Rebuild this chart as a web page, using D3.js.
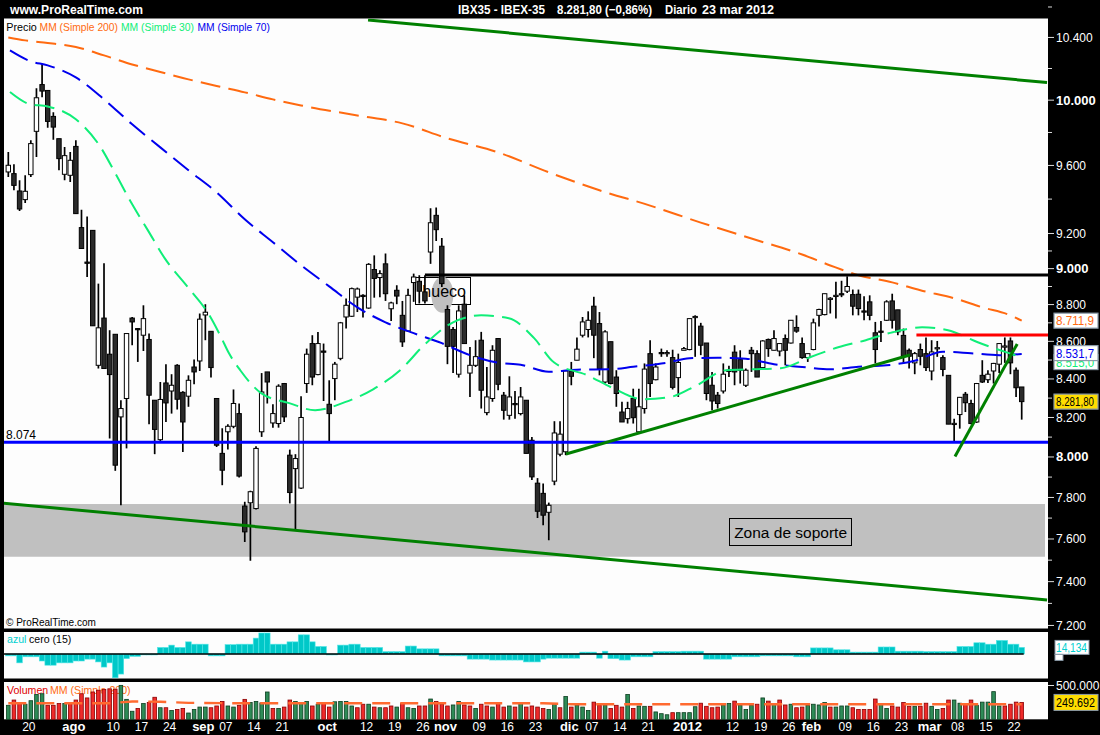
<!DOCTYPE html>
<html><head><meta charset="utf-8">
<script src="https://cdn.jsdelivr.net/npm/d3@7"></script>
<style>
html,body{margin:0;padding:0;background:#000;}
svg{display:block;font-family:"Liberation Sans",Arial,sans-serif;}
</style></head><body>
<svg id="c" width="1100" height="735"></svg>
<script>
// ---------- DATA ----------
const firstDay = "2011-07-14", lastDay = "2012-03-23";
const holidays = ["2011-12-26"];
// daily candles [open, high, low, close]
const ohlc = [
[9561,9681,9531,9601],[9551,9607,9452,9481],[9448,9511,9330,9342],[9397,9541,9377,9446],[9545,9752,9531,9732],
[9807,10075,9651,10015],[10098,10232,10019,10057],[10061,10061,9829,9868],[9899,9925,9756,9833],[9762,9762,9571,9641],
[9547,9711,9511,9659],[9541,9681,9501,9631],[9715,9752,9315,9315],[9234,9338,9114,9114],[9037,9299,8953,9030],
[9218,9218,8684,8684],[8472,8916,8455,8673],[8726,9031,8455,8455],[8531,8660,8093,8423],[8638,8638,7931,7959],
[8203,8289,7762,8246],[8298,8642,8043,8642],[8726,8732,8579,8705],[8669,8669,8490,8665],[8633,8796,8548,8723],
[8610,8642,8166,8315],[8289,8289,8014,8139],[8087,8384,8080,8293],[8379,8478,8177,8275],[8337,8425,8220,8367],
[8472,8478,8241,8294],[8330,8336,8025,8177],[8310,8419,8255,8393],[8463,8503,8372,8437],[8495,8751,8442,8720],
[8743,8802,8606,8758],[8654,8654,8407,8460],[8298,8298,8050,8059],[8018,8145,7860,7934],[8127,8166,8037,8155],
[8155,8345,8145,8272],[8220,8272,7898,7905],[7758,7779,7586,7634],[7774,7833,7497,7828],[7746,8054,7742,8043],
[8127,8431,8101,8332],[8437,8437,8272,8384],[8172,8268,8148,8220],[8169,8372,8148,8362],[8376,8379,8177,8203],
[8009,8037,7771,7824],[7942,8014,7642,7992],[7846,8310,7841,8200],[8376,8561,8327,8531],[8588,8633,8367,8410],
[8423,8651,8419,8588],[8548,8588,8285,8545],[8268,8393,8076,8220],[8402,8490,8289,8478],[8509,8705,8499,8700],
[8732,8833,8669,8796],[8736,8894,8732,8888],[8841,8894,8759,8886],[8851,8857,8729,8848],[8781,9031,8777,9024],
[8995,9075,8838,8945],[8950,8991,8841,8972],[9027,9085,8820,8860],[8777,8815,8710,8809],[8879,8907,8802,8847],
[8741,8820,8570,8597],[8656,8888,8651,8851],[8922,8972,8815,8953],[8929,8963,8806,8874],[8870,8963,8806,8820],
[9094,9347,9027,9262],[9305,9351,9157,9222],[9127,9174,8897,8916],[8773,8796,8478,8573],[8664,8678,8431,8573],
[8425,8796,8407,8765],[8802,8851,8588,8588],[8431,8570,8306,8472],[8472,8606,8463,8518],[8606,8651,8246,8341],
[8225,8463,8211,8306],[8298,8579,8281,8552],[8615,8615,8341,8372],[8315,8332,8189,8237],[8211,8414,8189,8306],
[8272,8337,8194,8268],[8220,8358,8211,8306],[8289,8289,8018,8018],[8084,8101,7885,7901],[7870,7895,7700,7733],
[7820,7868,7666,7714],[7728,7775,7594,7762],[7880,8181,7860,8121],[8014,8181,8004,8115],[8026,8442,8009,8442],
[8442,8490,8367,8414],[8499,8621,8499,8558],[8633,8732,8621,8705],[8664,8763,8621,8714],[8791,8843,8510,8633],
[8696,8759,8419,8455],[8384,8660,8376,8651],[8598,8598,8372,8376],[8410,8446,8255,8324],[8228,8281,8177,8177],
[8194,8281,8169,8246],[8298,8349,8169,8199],[8127,8349,8121,8255],[8246,8482,8220,8452],[8534,8606,8306,8376],
[8396,8482,8393,8463],[8540,8561,8517,8535],[8537,8552,8517,8540],[8513,8555,8345,8356],[8407,8534,8306,8487],
[8552,8570,8552,8561],[8556,8723,8552,8723],[8730,8741,8517,8735],[8682,8700,8526,8579],[8591,8591,8289,8324],
[8367,8437,8237,8285],[8315,8332,8246,8272],[8337,8482,8324,8425],[8446,8470,8410,8440],[8542,8579,8367,8437],
[8502,8552,8376,8446],[8367,8455,8358,8446],[8552,8570,8437,8534],[8534,8552,8410,8410],[8460,8606,8460,8602],
[8610,8615,8517,8561],[8552,8660,8552,8615],[8548,8591,8520,8588],[8615,8637,8472,8552],[8591,8714,8588,8714],
[8675,8741,8646,8655],[8588,8621,8507,8513],[8513,8534,8490,8534],[8556,8723,8552,8700],[8741,8777,8680,8773],
[8745,8860,8741,8860],[8830,8841,8751,8835],[8848,8926,8723,8851],[8860,8932,8841,8857],[8874,8957,8864,8900],
[8855,8883,8741,8791],[8857,8883,8741,8778],[8765,8846,8714,8760],[8815,8851,8714,8741],[8646,8705,8482,8556],
[8655,8710,8597,8650],[8714,8824,8710,8815],[8820,8860,8669,8714],[8771,8771,8633,8651],[8632,8669,8482,8522],
[8552,8561,8455,8520],[8485,8543,8425,8534],[8556,8588,8472,8520],[8534,8621,8442,8460],[8442,8606,8393,8543],
[8562,8602,8517,8566],[8513,8526,8414,8450],[8419,8419,8166,8166],[8166,8194,8071,8170],[8215,8306,8143,8304],
[8320,8332,8228,8276],[8272,8292,8166,8169],[8177,8379,8172,8376],[8419,8499,8379,8384],[8396,8446,8379,8425],
[8442,8485,8376,8482],[8478,8591,8431,8588],[8570,8621,8485,8575],[8602,8621,8425,8485],[8446,8460,8306,8354],
[8358,8358,8189,8281.8]
];
// volume, thousands
const volumes = [
207,285,233,223,275,368,378,207,207,233, 233,243,285,378,316,404,430,440,451,445,
502,295,119,161,233,249,326,171,171,130, 145,161,93,145,181,181,171,197,264,197,
181,207,295,249,264,243,404,161,161,181, 285,264,249,264,197,223,249,181,259,264,
264,197,171,223,223,181,171,171,197,181, 233,171,161,197,197,300,264,223,197,212,
264,212,197,161,223,197,181,233,181,197, 181,233,181,197,181,161,145,223,171,337,
181,212,181,130,254,212,212,161,207,181, 368,161,197,192,192,109,83,67,98,98,
98,98,186,238,192,171,181,212,233,269, 212,145,207,223,316,269,223,285,212,223,
171,181,207,223,212,249,181,181,197,197, 171,145,145,145,300,223,161,197,181,249,
192,192,192,238,192,145,161,285,285,238, 223,285,207,254,254,409,197,197,223,254,
249.692];
// "azul cero (15)" indicator
const azul = [
-4,-4,-19,-6,-6,-6,-15,-24,-24,-19, -19,-19,-15,-15,-11,-11,-17,-28,-19,-51,
-43,-10,-5,-5,-2,-2,-2,14,14,19, 14,14,26,21,21,21,-4,-4,-4,20,
20,21,21,21,34,45,45,21,21,21, 26,26,41,41,26,16,16,-2,-2,19,
19,21,21,14,14,14,14,5,5,5, 5,17,17,11,11,11,11,-4,-4,-4,
-4,-4,-11,-11,-11,-11,-13,-13,-13,-13, -13,-13,-17,-17,-17,-11,-9,-9,-9,-9,
-9,-9,4,4,4,-9,6,-10,-10,-13, -13,-6,-6,-6,-6,5,5,5,5,5,
6,6,6,6,-11,-11,-11,-11,-11,-6, -6,-6,-6,-6,-4,-4,-4,-4,-4,-4,
-6,-6,-6,13,13,13,13,9,9,9, 4,4,4,4,4,15,15,15,6,6,
6,6,6,5,5,5,5,5,5,16, 16,16,24,24,21,21,29,29,21,21,
14.134];
// moving averages: [candle index, value]
const ma200 = [[0,10400],[3,10381],[7,10364],[12,10338],[17,10284],[22,10226],[27,10178],[32,10131],[37,10089],[42,10049],[47,10005],[52,9967],[62,9905],[70,9856],[78,9764],[87,9679],[96,9559],[105,9452],[114,9362],[123,9263],[132,9171],[141,9080],[146,9018],[151,8963],[157,8923],[162,8879],[168,8835],[173,8785],[178,8741],[180,8711.9]];
const ma70 = [[0.3,10316],[3.9,10247],[7,10220],[12,10143],[17,10005],[22,9850],[27,9709],[32,9571],[37,9440],[42,9282],[47,9150],[52,9019],[57,8901],[62,8785],[67,8703],[72,8644],[77,8590],[82,8526],[87,8486],[91,8475],[96,8438],[101,8449],[107,8451],[111,8464],[117,8486],[121,8510],[126,8512],[131,8507],[136,8478],[141,8463],[146,8451],[151,8464],[156,8472],[161,8496],[166,8544],[171,8536],[176,8526],[180,8531.7]];
const ma30 = [[0.3,10051],[3.9,9974],[7,9961],[12,9881],[16.3,9715],[19.1,9547],[21.8,9381],[24.8,9218],[27.8,9058],[31.9,8896],[35.6,8747],[37.8,8622],[39.2,8536],[41.2,8446],[44.9,8326],[49.9,8274],[54.5,8237],[59.8,8279],[64.8,8346],[69.6,8446],[74,8584],[79,8703],[84,8741],[88.9,8725],[93.4,8617],[96.9,8488],[102.8,8420],[107.4,8352],[112.7,8294],[117.5,8305],[122.3,8367],[127.5,8446],[132.3,8451],[137.2,8457],[142.4,8515],[147.4,8568],[152.3,8606],[157.1,8649],[162.3,8676],[166.9,8660],[172.2,8595],[177.2,8542],[180,8515]];
const volMA = [[0,238],[18,238],[22,264],[27,259],[32,243],[40,238],[95,238],[100,223],[180,223]];
// drawn levels / trend lines
const supportLevel = 8074, gapLevel = 8964, resistLevel = 8634;
const gapLevelStart = 74, resistStart = 161.3;
const trendLines = [
  {from:[63.9,10514], to:[184.5,10111]},
  {from:[-0.9,7772], to:[184.5,7316]},
  {from:[99.06,8015], to:[160.15,8527]},
  {from:[168.15,8002], to:[179.2,8586]}
];
const zone = {top:7768, bottom:7516, label:"Zona de soporte", box:[128.1,149.8,7699,7568]};
const hueco = {label:"hueco", box:[72.3,82.1,8952,8802], blob:[77.1,8854]};
const priceTicks = [10400,10000,9600,9200,9000,8800,8600,8400,8200,8000,7800,7600,7400,7200];
const boldTicks = [10000,9000,8000];
const minorTicks = [10600,10200,9800,9400,9100,8900,8700,8500,8300,8100,7900,7700,7500,7300];
const xLabels = [["2011-07-20","20",0],["2011-08-01","ago",1],["2011-08-10","10",0],["2011-08-17","17",0],["2011-08-24","24",0],
["2011-09-01","sep",1],["2011-09-07","07",0],["2011-09-14","14",0],["2011-09-21","21",0],["2011-10-03","oct",1],["2011-10-12","12",0],
["2011-10-19","19",0],["2011-10-26","26",0],["2011-11-01","nov",1],["2011-11-09","09",0],["2011-11-16","16",0],["2011-11-23","23",0],
["2011-12-01","dic",1],["2011-12-07","07",0],["2011-12-14","14",0],["2011-12-21","21",0],["2012-01-02","2012",1],["2012-01-12","12",0],
["2012-01-19","19",0],["2012-01-26","26",0],["2012-02-01","feb",1],["2012-02-09","09",0],["2012-02-16","16",0],["2012-02-23","23",0],
["2012-03-01","mar",1],["2012-03-08","08",0],["2012-03-15","15",0],["2012-03-22","22",0]];
const monthsEs = ["ene","feb","mar","abr","may","jun","jul","ago","sep","oct","nov","dic"];

// ---------- HELPERS ----------
function tradingDays(a,b,skip){const out=[];let d=new Date(a+"T00:00:00Z");const e=new Date(b+"T00:00:00Z");
  while(d<=e){const wd=d.getUTCDay();const s=d.toISOString().slice(0,10);if(wd!==0&&wd!==6&&!skip.includes(s))out.push(s);d=new Date(d.getTime()+86400000);}return out;}
const dates = tradingDays(firstDay,lastDay,holidays);
const es = d3.formatLocale({decimal:",",thousands:".",grouping:[3],currency:["",""]});
const f0=es.format(",.0f"), f1=es.format(",.1f"), f2=es.format(",.2f"), f3=es.format(",.3f");

const svg = d3.select("#c");
const L=4, R=1048, N=ohlc.length;
const mainT=18.5, mainB=628.5, indT=632, indB=678.5, volT=682, volB=719.3;
svg.append("rect").attr("width",1100).attr("height",735).attr("fill","#000");
[[mainT,mainB],[indT,indB],[volT,volB]].forEach(p=>svg.append("rect").attr("x",L).attr("y",p[0]).attr("width",R-L).attr("height",p[1]-p[0]).attr("fill","#fdfdfd"));

const x = d3.scaleLinear().domain([0,180]).range([8.3,1021.7]);
const y = d3.scaleLog().domain([7184,10524]).range([629,18.5]);
const yI = d3.scaleLinear().domain([-52.5,47.1]).range([678.5,632]);
const yV = d3.scaleLinear().domain([0,500]).range([volB,685.5]);

const defs = svg.append("defs");
defs.append("clipPath").attr("id","cm").append("rect").attr("x",L).attr("y",mainT).attr("width",R-L).attr("height",mainB-mainT);
const main = svg.append("g").attr("clip-path","url(#cm)");

// zone
main.append("rect").attr("x",L).attr("width",1045-L).attr("y",y(zone.top)).attr("height",y(zone.bottom)-y(zone.top)).attr("fill","#c0c0c0");
const zb = zone.box;
main.append("rect").attr("x",x(zb[0])).attr("y",y(zb[2])).attr("width",x(zb[1])-x(zb[0])).attr("height",y(zb[3])-y(zb[2]))
  .attr("fill","#c0c0c0").attr("stroke","#000").attr("stroke-width",1).attr("shape-rendering","crispEdges");
main.append("text").attr("x",(x(zb[0])+x(zb[1]))/2).attr("y",(y(zb[2])+y(zb[3]))/2+5.5).attr("text-anchor","middle")
  .attr("font-size",15.5).attr("fill","#000").text(zone.label);
// hueco box
const hb = hueco.box;
main.append("rect").attr("x",x(hb[0])).attr("y",y(hb[2])).attr("width",x(hb[1])-x(hb[0])).attr("height",y(hb[3])-y(hb[2]))
  .attr("fill","#fff").attr("stroke","#000").attr("stroke-width",1).attr("shape-rendering","crispEdges");
main.append("ellipse").attr("cx",x(hueco.blob[0])).attr("cy",y(hueco.blob[1])).attr("rx",11).attr("ry",18).attr("fill","#c0c0c0");
main.append("text").attr("x",x(hb[0])+7).attr("y",(y(hb[2])+y(hb[3]))/2+6).attr("font-size",16).attr("fill","#000").text(hueco.label);

// candles
const cg = main.append("g");
cg.selectAll("line").data(ohlc).join("line")
  .attr("x1",(d,i)=>x(i)).attr("x2",(d,i)=>x(i)).attr("y1",d=>y(d[1])).attr("y2",d=>y(d[2]))
  .attr("stroke","#000").attr("stroke-width",1.7);
cg.selectAll("rect").data(ohlc).join("rect")
  .attr("x",(d,i)=>x(i)-2.2).attr("width",4.4)
  .attr("y",d=>y(Math.max(d[0],d[3])))
  .attr("height",d=>Math.max(1.2,y(Math.min(d[0],d[3]))-y(Math.max(d[0],d[3]))))
  .attr("fill",d=>d[3]>=d[0]?"#fff":"#2b2b2b").attr("stroke","#000").attr("stroke-width",1);

// moving averages
const maLine = d3.line().x(d=>x(d[0])).y(d=>y(d[1])).curve(d3.curveMonotoneX);
[[ma200,"#ff6a10"],[ma70,"#0000ee"],[ma30,"#10ee78"]].forEach(([d,c])=>
  main.append("path").attr("d",maLine(d)).attr("fill","none").attr("stroke",c).attr("stroke-width",2).attr("stroke-dasharray","20,8.3"));

// levels and trend lines
main.append("line").attr("x1",L).attr("x2",R).attr("y1",y(supportLevel)).attr("y2",y(supportLevel)).attr("stroke","#0000ff").attr("stroke-width",3.2);
main.append("line").attr("x1",x(gapLevelStart)).attr("x2",R).attr("y1",y(gapLevel)).attr("y2",y(gapLevel)).attr("stroke","#000").attr("stroke-width",3);
main.append("line").attr("x1",x(resistStart)).attr("x2",R).attr("y1",y(resistLevel)).attr("y2",y(resistLevel)).attr("stroke","#ff0000").attr("stroke-width",3);
trendLines.forEach(t=>main.append("line").attr("x1",x(t.from[0])).attr("y1",y(t.from[1])).attr("x2",x(t.to[0])).attr("y2",y(t.to[1]))
  .attr("stroke","#008000").attr("stroke-width",3));

main.append("text").attr("x",6).attr("y",y(supportLevel)-3).attr("font-size",12).attr("fill","#000").text(f0(supportLevel));
main.append("text").attr("x",6).attr("y",626).attr("font-size",10).attr("fill","#000").text("© ProRealTime.com");

// legend
const lg = [["Precio",6.3,"#000",30.5],["MM (Simple 200)",39.6,"#ff6a10",78.4],["MM (Simple 30)",121,"#10ee78",73],["MM (Simple 70)",197.5,"#0000ee",72.5]];
lg.forEach(l=>svg.append("text").attr("x",l[1]).attr("y",31).attr("font-size",10.6).attr("fill",l[2])
  .attr("textLength",l[3]).attr("lengthAdjust","spacingAndGlyphs").text(l[0]));

// header
const last = ohlc[N-1][3], prev = ohlc[N-2][3];
const pct = es.format("+,.2f")((last/prev-1)*100).replace("+","");
const ld = new Date(dates[N-1]+"T00:00:00Z");
const hdr = [["www.ProRealTime.com",10,133],["IBX35 - IBEX-35",458,87],[`${f2(last)} (${pct}%)`,557,95],["Diario",665,32],
  [`${ld.getUTCDate()} ${monthsEs[ld.getUTCMonth()]} ${ld.getUTCFullYear()}`,702,72]];
hdr.forEach(h=>svg.append("text").attr("x",h[1]).attr("y",14).attr("font-size",13).attr("font-weight","bold").attr("fill","#fff")
  .attr("textLength",h[2]).attr("lengthAdjust","spacingAndGlyphs").text(h[0]));

// right price axis
const ax = svg.append("g");
minorTicks.forEach(v=>ax.append("line").attr("x1",R).attr("x2",R+4).attr("y1",y(v)).attr("y2",y(v)).attr("stroke","#ddd").attr("stroke-width",1));
priceTicks.forEach(v=>{
  ax.append("line").attr("x1",R).attr("x2",R+6).attr("y1",y(v)).attr("y2",y(v)).attr("stroke","#ddd").attr("stroke-width",1);
  const b = boldTicks.includes(v);
  ax.append("text").attr("x",R+8).attr("y",y(v)+4.5).attr("font-size",b?13:12).attr("font-weight",b?"bold":"normal").attr("fill","#fff").text(f0(v));
});
function tag(txt,color,bg,cy,w){
  ax.append("rect").attr("x",R+6).attr("y",cy-7.5).attr("width",w).attr("height",15).attr("fill",bg).attr("stroke","#8a9aa8").attr("stroke-width",1.2);
  ax.append("text").attr("x",R+8).attr("y",cy+4.5).attr("font-size",12).attr("fill",color)
    .attr("textLength",w-6).attr("lengthAdjust","spacingAndGlyphs").text(txt);
}
const m30last = ma30[ma30.length-1][1], m70last = ma70[ma70.length-1][1], m200last = ma200[ma200.length-1][1];
tag(f1(m200last),"#ff6a10","#fff",y(m200last),44);
tag(f1(m30last),"#10ee78","#fff",y(m70last)+8,44);
tag(f1(m70last),"#0000ee","#fff",y(m70last)-1,44);
tag(f2(last),"#000","#ffdd00",y(last),44);

// indicator panel
const ig = svg.append("g");
ig.append("text").attr("x",7).attr("y",643).attr("font-size",10.6).attr("fill","#00d0d0").text("azul");
ig.append("text").attr("x",29).attr("y",643).attr("font-size",10.6).attr("fill","#000").text("cero (15)");
ig.selectAll("rect.b").data(azul).join("rect").attr("class","b")
  .attr("x",(d,i)=>x(i)-2.8).attr("width",5.6)
  .attr("y",d=>Math.min(yI(d),yI(0))).attr("height",d=>Math.abs(yI(d)-yI(0)))
  .attr("fill","#00c8c8").attr("stroke","#4fe6e6").attr("stroke-width",0.6);
ig.append("line").attr("x1",L).attr("x2",x(N-1)+2).attr("y1",yI(0)).attr("y2",yI(0)).attr("stroke","#000").attr("stroke-width",1.6);
const al = azul[N-1];
ig.append("rect").attr("x",R+7).attr("y",yI(al)-7).attr("width",34).attr("height",14).attr("fill","#fff").attr("stroke","#8a9aa8");
ig.append("rect").attr("x",R+7).attr("y",yI(al)+7).attr("width",8).attr("height",6).attr("fill","#fff").attr("stroke","#8a9aa8");
ig.append("text").attr("x",R+8).attr("y",yI(al)+5).attr("font-size",12).attr("fill","#00d0d0")
  .attr("textLength",31).attr("lengthAdjust","spacingAndGlyphs").text(f3(al));

// volume panel
const vg = svg.append("g");
vg.append("text").attr("x",7).attr("y",694).attr("font-size",10.6).attr("fill","#e00000").text("Volumen");
vg.append("text").attr("x",50).attr("y",694).attr("font-size",10.6).attr("fill","#ff6a10").text("MM (Simple 200)");
vg.selectAll("rect.v").data(volumes).join("rect").attr("class","v")
  .attr("x",(d,i)=>x(i)-1.8).attr("width",3.6)
  .attr("y",d=>yV(d)).attr("height",d=>yV(0)-yV(d))
  .attr("fill",(d,i)=>{const c=ohlc[i][3], p=i>0?ohlc[i-1][3]:ohlc[i][0]; return c>=p?"#2e8b57":"#ee2a2a";})
  .attr("stroke",(d,i)=>{const c=ohlc[i][3], p=i>0?ohlc[i-1][3]:ohlc[i][0]; return c>=p?"#0b3d1f":"#8b0000";})
  .attr("stroke-width",0.8);
vg.append("path").attr("d",d3.line().x(d=>x(d[0])).y(d=>yV(d[1]))(volMA)).attr("fill","none").attr("stroke","#ff6a30").attr("stroke-width",2.4).attr("stroke-dasharray","18,10");
vg.append("line").attr("x1",R).attr("x2",R+6).attr("y1",yV(500)).attr("y2",yV(500)).attr("stroke","#ddd");
vg.append("text").attr("x",R+8).attr("y",yV(500)+4).attr("font-size",12).attr("fill","#fff").text(f0(500000));
const vl = volumes[N-1];
vg.append("rect").attr("x",R+6).attr("y",yV(vl)-8).attr("width",44).attr("height",16).attr("fill","#ffdd00").attr("stroke","#8a9aa8");
vg.append("text").attr("x",R+8).attr("y",yV(vl)+4.5).attr("font-size",12).attr("fill","#000")
  .attr("textLength",39).attr("lengthAdjust","spacingAndGlyphs").text(f0(vl*1000));

// x axis labels
xLabels.forEach(([dt,lab,b])=>{
  const i = dates.indexOf(dt);
  if(i<0) return;
  svg.append("text").attr("x",x(i)-2).attr("y",731).attr("text-anchor","middle").attr("font-size",b?13:12)
    .attr("font-weight",b?"bold":"normal").attr("fill","#fff").text(lab);
});
</script>
</body></html>
